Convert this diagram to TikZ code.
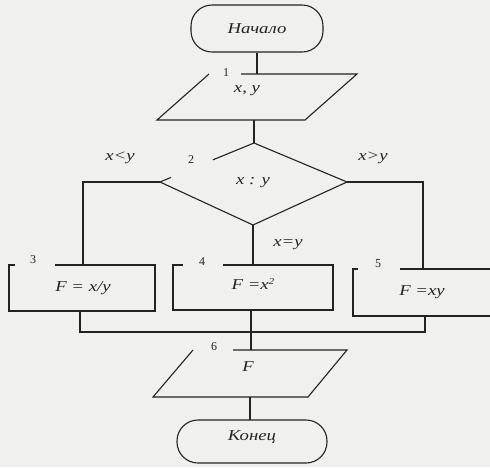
\documentclass[tikz,border=0pt]{standalone}
\usepackage{fontspec}
\setmainfont{Liberation Serif}
\newcommand{\stretchx}[1]{\scalebox{1.25}[1]{#1}}
\definecolor{paper}{RGB}{240,240,238}
\definecolor{ink}{RGB}{35,35,35}
\tikzset{
  ln/.style={line width=1.1pt, draw=ink},
  term/.style={draw=ink, line width=1.1pt, rounded corners=21pt, inner sep=0pt},
  lbl/.style={font=\itshape\fontsize{15}{17}\selectfont, text=ink, inner sep=0pt},
  num/.style={font=\fontsize{12}{14}\selectfont, text=ink, inner sep=0pt},
}
\begin{document}
\begin{tikzpicture}[x=1pt,y=-1pt]
\fill[paper] (0,0) rectangle (490,467);
\useasboundingbox (0,0) rectangle (490,467);

% start
\node[term, minimum width=132pt, minimum height=47pt] (start) at (257,28.5) {};
\node[lbl] (tstart) at (257,28.5) {\stretchx{Начало}};

% block 1 (input)
\coordinate (p1bl) at (157,120);
\coordinate (p1br) at (305,120);
\coordinate (p1tr) at (357,74);
\coordinate (p1tl) at (209,74);
\coordinate (p1g) at (241,74);
\coordinate (p1in) at (257,74);
\coordinate (p1out) at (254,120);
\draw[ln] (p1g) -- (p1tr) -- (p1br) -- (p1bl) -- (p1tl);
\node[num] (n1) at (226,73) {1};
\node[lbl] (t1) at (247,91) {\stretchx{x, y}};
\draw[ln] (start.south) -- (p1in);

% block 2 (decision)
\coordinate (dT) at (254,143);
\coordinate (dL) at (160,182);
\coordinate (dR) at (347,182);
\coordinate (dB) at (253,225);
\coordinate (dg1) at (213,159.8);
\coordinate (dg2) at (171,177.4);
\draw[ln] (dg1) -- (dT) -- (dR) -- (dB) -- (dL) -- (dg2);
\node[num] (n2) at (191,160) {2};
\node[lbl] (t2) at (253,183) {\stretchx{x : y}};
\draw[ln] (p1out) -- (dT);

% branches
\coordinate (lc) at (83,182);
\coordinate (b3in) at (83,265);
\coordinate (rc) at (423,182);
\coordinate (b5in) at (423,269);
\coordinate (b4in) at (253,265);
\draw[ln] (dL) -- (lc) -- (b3in);
\draw[ln] (dR) -- (rc) -- (b5in);
\draw[ln] (dB) -- (b4in);
\node[lbl] (lt) at (120,158) {\stretchx{x<y}};
\node[lbl] (gt) at (373,158) {\stretchx{x>y}};
\node[lbl] (eq) at (288,245) {\stretchx{x=y}};

% block 3
\draw[ln] (55,265) -- (155,265) -- (155,311) -- (9,311) -- (9,265) -- (15,265);
\node[num] (n3) at (33,260) {3};
\node[lbl] (t3) at (83,288) {\stretchx{F = x/y}};

% block 4
\draw[ln] (223,265) -- (333,265) -- (333,310) -- (173,310) -- (173,265) -- (183,265);
\node[num] (n4) at (202,262) {4};
\node[lbl] (t4) at (253,284) {\stretchx{F =x\raisebox{0.85ex}{\fontsize{9}{9}\selectfont 2}}};

% block 5
\draw[ln] (400,269) -- (491,269);
\draw[ln] (491,316) -- (353,316) -- (353,269) -- (358,269);
\node[num] (n5) at (378,264) {5};
\node[lbl] (t5) at (422,292) {\stretchx{F =xy}};

% merge
\coordinate (b3out) at (80,311);
\coordinate (m1) at (80,332);
\coordinate (m2) at (425,332);
\coordinate (b5out) at (425,316);
\coordinate (b4out) at (251,310);
\draw[ln] (b3out) -- (m1) -- (m2) -- (b5out);

% block 6 (output)
\coordinate (p6bl) at (153,397);
\coordinate (p6br) at (308,397);
\coordinate (p6tr) at (347,350);
\coordinate (p6tl) at (193,350);
\coordinate (p6g) at (233,350);
\coordinate (p6in) at (251,350);
\coordinate (p6out) at (250,397);
\draw[ln] (p6g) -- (p6tr) -- (p6br) -- (p6bl) -- (p6tl);
\node[num] (n6) at (214,347) {6};
\node[lbl] (t6) at (248,367) {\stretchx{F}};
\draw[ln] (b4out) -- (p6in);

% end
\node[term, minimum width=150pt, minimum height=43pt] (end) at (252,441.5) {};
\node[lbl] (tend) at (252,437) {\stretchx{Конец}};
\draw[ln] (p6out) -- (250,420);
\end{tikzpicture}
\end{document}
